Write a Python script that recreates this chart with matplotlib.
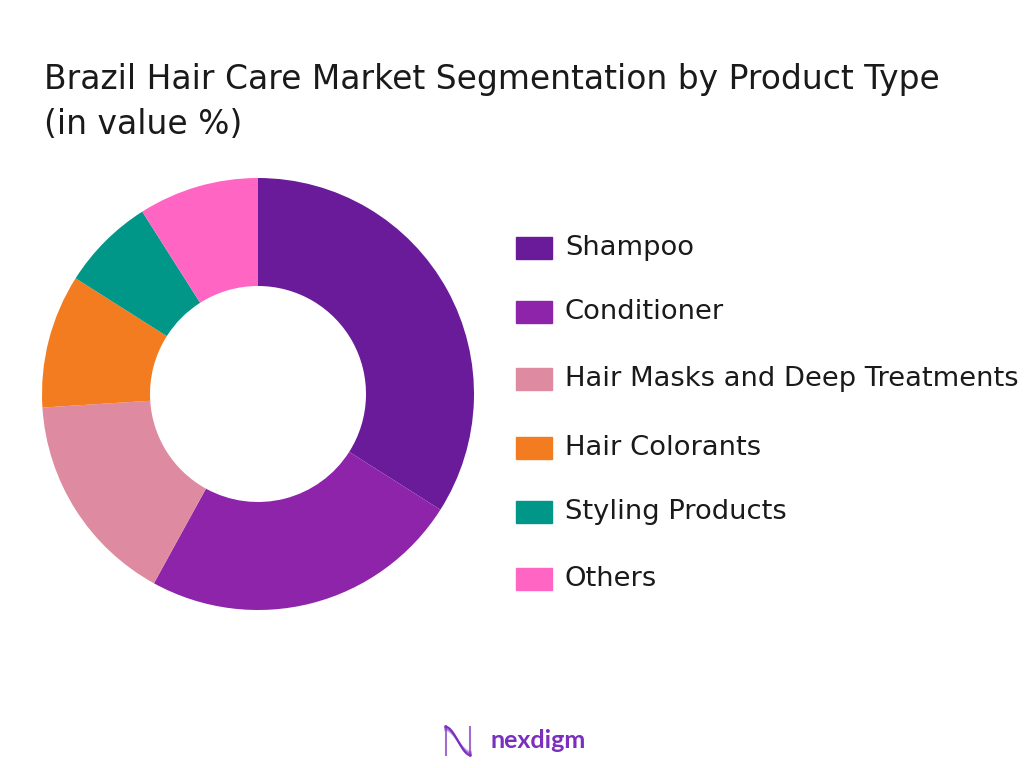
import matplotlib.pyplot as plt
import numpy as np

plt.rcParams['font.family'] = ['DejaVu Sans']

categories = ['Shampoo', 'Conditioner', 'Hair Masks and Deep Treatments',
              'Hair Colorants', 'Styling Products', 'Others']
shares = [34, 24, 16, 10, 7, 9]
colors = ['#6A1B9A', '#8E24AA', '#DE8AA0', '#F47C20', '#009688', '#FF66C4']

fig = plt.figure(figsize=(10.24, 7.68), dpi=100)

# donut
ax = fig.add_axes([42 / 1024, (768 - 394 - 216) / 768, 432 / 1024, 432 / 768])
wedges, _ = ax.pie(shares, colors=colors, startangle=90, counterclock=False,
                   radius=1, wedgeprops=dict(width=0.5, edgecolor='none'))
ax.set_xlim(-1, 1)
ax.set_ylim(-1, 1)
ax.set_aspect('equal')
ax.axis('off')

fig.text(44 / 1024, 1 - 80 / 768, 'Brazil Hair Care Market Segmentation by Product Type',
         fontsize=23.7, color='#1a1a1a', va='center', ha='left')
fig.text(44 / 1024, 1 - 125 / 768, '(in value %)',
         fontsize=23.7, color='#1a1a1a', va='center', ha='left')

# legend
row_y = [248, 312, 379, 448, 512, 579]
for y, lab, c in zip(row_y, categories, colors):
    fig.patches.append(plt.Rectangle((516 / 1024, 1 - (y + 11) / 768), 36 / 1024, 22 / 768,
                                     transform=fig.transFigure, color=c))
    fig.text(565 / 1024, 1 - y / 768, lab, fontsize=19.7, color='#1a1a1a',
             va='center', ha='left')

# logo
lax = fig.add_axes([444 / 1024, 1 - 758 / 768, 28 / 1024, 34 / 768])
t = np.linspace(0, 1, 100)
for k, a in enumerate([1.0, 0.6, 0.35]):
    lax.plot(t, 0.5 - 0.42 * np.sin((t - 0.5) * np.pi) * (1 - 0.12 * k),
             color='#7B2FBE', alpha=a, lw=1.5)
lax.plot([0.02, 0.02], [0.08, 0.95], color='#7B2FBE', lw=1.5, alpha=0.7)
lax.plot([0.98, 0.98], [0.05, 0.92], color='#7B2FBE', lw=1.5, alpha=0.7)
lax.set_xlim(-0.05, 1.05)
lax.set_ylim(0, 1)
lax.axis('off')
fig.text(490 / 1024, 1 - 741 / 768, 'nexdigm', fontsize=18, fontweight='bold',
         family='Lato', color='#7B2FBE', va='center', ha='left')

fig.savefig('out.png', dpi=100, facecolor='white')
